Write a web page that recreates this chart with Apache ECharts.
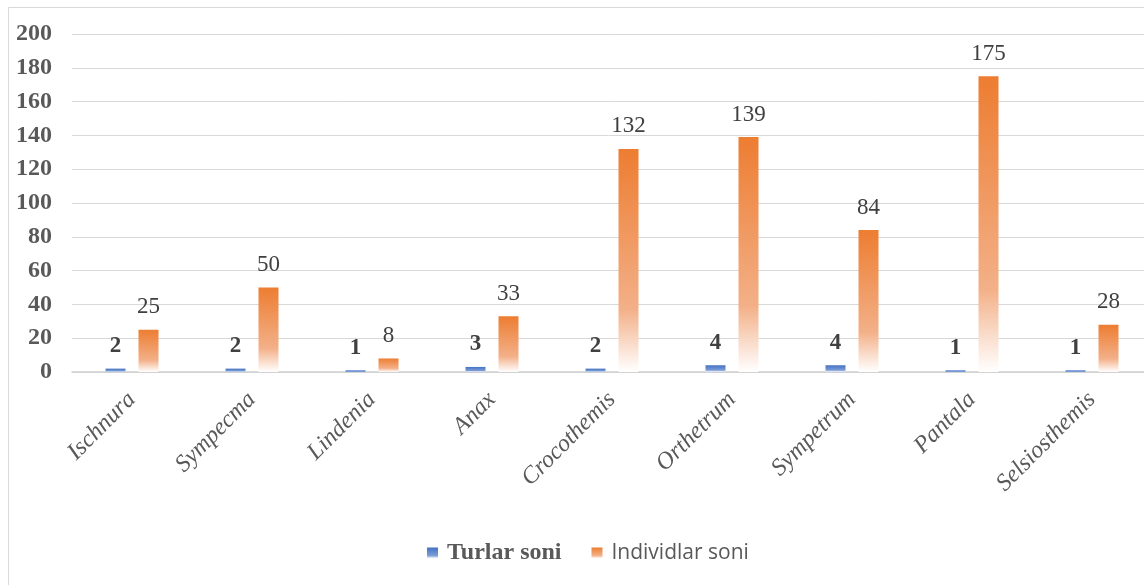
<!DOCTYPE html>
<html>
<head>
<meta charset="utf-8">
<script src="https://cdn.jsdelivr.net/npm/echarts@6/dist/echarts.min.js"></script>
<style>
  html, body { margin: 0; padding: 0; background: #fff; }
</style>
</head>
<body>
<div id="chart" style="width:1144px;height:585px;"></div>
<script>
  // data
  var genera = ['Ischnura', 'Sympecma', 'Lindenia', 'Anax', 'Crocothemis', 'Orthetrum', 'Sympetrum', 'Pantala', 'Selsiosthemis'];
  var turlarSoni = [2, 2, 1, 3, 2, 4, 4, 1, 1];
  var individlarSoni = [25, 50, 8, 33, 132, 139, 84, 175, 28];
  var yTicks = [0, 20, 40, 60, 80, 100, 120, 140, 160, 180, 200];

  function fade (c, mid) {
    return new echarts.graphic.LinearGradient(0, 0, 0, 1, [
      { offset: 0, color: c },
      { offset: 0.72, color: mid },
      { offset: 1, color: '#ffffff' }
    ]);
  }

  var chart = echarts.init(document.getElementById('chart'));
  var serif = '"Liberation Serif", "Times New Roman", serif';

  var option = {
    animation: false,
    backgroundColor: '#ffffff',
    graphic: [{
      type: 'rect',
      shape: { x: 8.5, y: 7.5, width: 1200, height: 700 },
      style: { fill: 'none', stroke: '#d9d9d9', lineWidth: 1 },
      silent: true
    }],
    // plot runs past the right edge, as in the cropped original
    grid: { left: 72, top: 34, width: 1080, bottom: 213, containLabel: false, outerBoundsMode: 'none' },
    legend: {
      bottom: 15,
      left: 422,
      itemWidth: 11,
      itemHeight: 11,
      itemGap: 30,
      icon: 'rect',
      data: [
        { name: 'Turlar soni', textStyle: { fontFamily: serif, fontWeight: 'bold', fontSize: 24, color: '#595959', padding: [0, 0, 0, 4] } },
        { name: 'Individlar soni', textStyle: { fontFamily: '"Open Sans", "Noto Sans", sans-serif', fontSize: 21, color: '#595959', padding: [0, 0, 0, 4] } }
      ]
    },
    xAxis: {
      type: 'category',
      data: genera,
      axisLine: { lineStyle: { color: '#d0d0d0', width: 1.5 } },
      axisTick: { show: false },
      axisLabel: {
        rotate: 45,
        margin: 24,
        fontFamily: serif,
        fontStyle: 'italic',
        fontSize: 24,
        color: '#595959'
      }
    },
    yAxis: {
      type: 'value',
      min: yTicks[0],
      max: yTicks[yTicks.length - 1],
      interval: yTicks[1] - yTicks[0],
      axisLine: { show: false },
      axisTick: { show: false },
      splitLine: { lineStyle: { color: '#d9d9d9', width: 1 } },
      axisLabel: {
        margin: 20,
        fontFamily: serif,
        fontWeight: 'bold',
        fontSize: 24,
        color: '#595959'
      }
    },
    series: [
      {
        name: 'Turlar soni',
        type: 'bar',
        data: turlarSoni,
        barWidth: 20,
        barGap: '65%',
        itemStyle: { color: fade('#4472c4', '#7b9bd6') },
        label: {
          show: true,
          position: 'top',
          distance: 11,
          fontFamily: serif,
          fontWeight: 'bold',
          fontSize: 23,
          color: '#404040'
        }
      },
      {
        name: 'Individlar soni',
        type: 'bar',
        data: individlarSoni,
        barWidth: 20,
        itemStyle: { color: fade('#ed7d31', '#f3b088') },
        label: {
          show: true,
          position: 'top',
          distance: 11,
          fontFamily: serif,
          fontSize: 23,
          color: '#404040'
        }
      }
    ]
  };

  chart.setOption(option);
  window.onresize = function () { chart.resize(); };
</script>
</body>
</html>
